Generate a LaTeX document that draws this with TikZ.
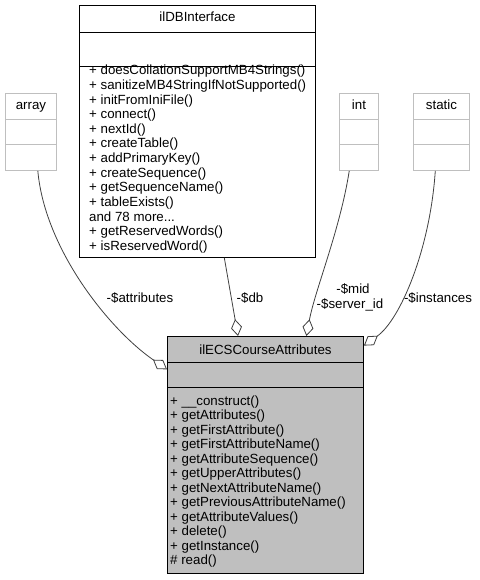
\documentclass[tikz,border=0pt]{standalone}
\usepackage{fontspec}
\setmainfont{Liberation Sans}
\usetikzlibrary{arrows.meta}
\definecolor{boxgray}{HTML}{BFBFBF}
\definecolor{edgegray}{HTML}{404040}
\tikzset{
  cls/.style={draw=black, line width=0.9pt, inner sep=0pt, anchor=north west},
  extcls/.style={draw=boxgray, line width=0.9pt, inner sep=0pt, anchor=north west},
  txt/.style={inner sep=0pt, font=\fontsize{13.3}{14.5}\selectfont},
  agg/.style={draw=edgegray, line width=0.8pt, -{Diamond[fill=white, length=17pt, width=11pt]}},
}

\begin{document}
\begin{tikzpicture}[x=1pt,y=-1pt]
\useasboundingbox (0,0) rectangle (479,580);

% member types
\node[extcls, minimum width=51pt, minimum height=77pt] (array) at (5,93) {};
\node[extcls, minimum width=39pt, minimum height=77pt] (int) at (339,93) {};
\node[extcls, minimum width=56pt, minimum height=77pt] (static) at (413,93) {};
\foreach \c/\y in {array/119, array/144, int/119, int/144, static/119, static/144}
  \draw[boxgray, line width=0.9pt] (\c.west |- 0,\y) -- (\c.east |- 0,\y);
\node[txt, anchor=base] (array-name) at (array.north |- 0,110) {array};
\node[txt, anchor=base] (int-name) at (int.north |- 0,110) {int};
\node[txt, anchor=base] (static-name) at (static.north |- 0,110) {static};

% ilDBInterface
\node[cls, fill=white, minimum width=236pt, minimum height=252pt] (db) at (79,5) {};
\draw[line width=0.9pt] (db.west |- 0,32) -- (db.east |- 0,32) (db.west |- 0,66) -- (db.east |- 0,66);
\node[txt, anchor=base] (db-name) at (db.north |- 0,22) {ilDBInterface};
\foreach \m [count=\i] in {+ doesCollationSupportMB4Strings(), + sanitizeMB4StringIfNotSupported(),
    + initFromIniFile(), + connect(), + nextId(), + createTable(), + addPrimaryKey(),
    + createSequence(), + getSequenceName(), + tableExists(), {and 78 more{...}},
    + getReservedWords(), + isReservedWord()}
  \node[txt, anchor=base west] (db-op-\i) at (89,60.4+14.6*\i) {\m};

% ilECSCourseAttributes
\node[cls, fill=boxgray, minimum width=196pt, minimum height=237pt] (main) at (167,336) {};
\draw[line width=0.9pt] (main.west |- 0,362) -- (main.east |- 0,362) (main.west |- 0,387) -- (main.east |- 0,387);
\node[txt, anchor=base] (main-name) at (main.north |- 0,354) {ilECSCourseAttributes};
\foreach \m [count=\i] in {+ \_\_construct(), + getAttributes(), + getFirstAttribute(),
    + getFirstAttributeName(), + getAttributeSequence(), + getUpperAttributes(),
    + getNextAttributeName(), + getPreviousAttributeName(), + getAttributeValues(),
    + delete(), + getInstance(), \# read()}
  \node[txt, anchor=base west] (main-op-\i) at (170,390.5+14.5*\i) {\m};

% aggregations
\draw[agg] (array.-80) .. controls (45,250) and (110,330) .. (main.139);
\draw[agg] (db.-78) -- (main.103);
\draw[agg] (int.-104) .. controls (340,230) and (315,290) .. (main.71);
\draw[agg] (static.-99) .. controls (430,250) and (400,320) .. (main.48);

\node[txt, anchor=base] (lbl-attr) at (140,302) {-\$attributes};
\node[txt, anchor=base] (lbl-db) at (250,302) {-\$db};
\node[txt, anchor=base] (lbl-mid) at (353,293) {-\$mid};
\node[txt, anchor=base] (lbl-sid) at (350,308) {-\$server\_id};
\node[txt, anchor=base] (lbl-inst) at (438,302) {-\$instances};
\end{tikzpicture}
\end{document}
